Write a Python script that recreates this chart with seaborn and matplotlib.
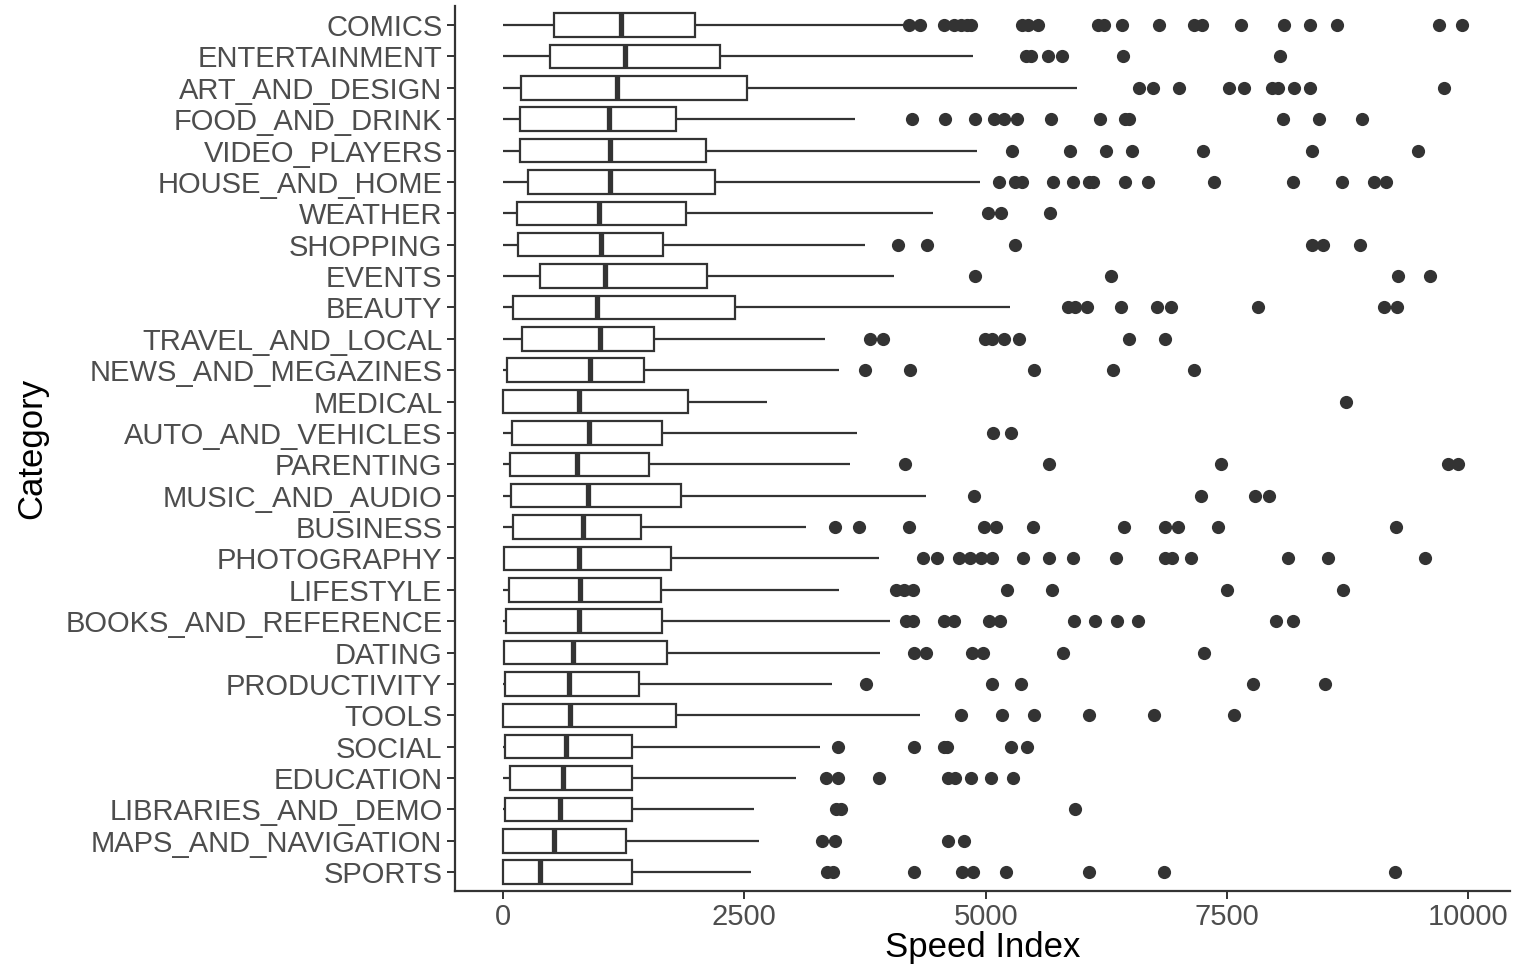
import matplotlib
matplotlib.use("Agg")
import matplotlib.pyplot as plt
import seaborn as sns
import pandas as pd

# categories, top to bottom (ordered by median)
categories = [
    "COMICS", "ENTERTAINMENT", "ART_AND_DESIGN", "FOOD_AND_DRINK", "VIDEO_PLAYERS",
    "HOUSE_AND_HOME", "WEATHER", "SHOPPING", "EVENTS", "BEAUTY",
    "TRAVEL_AND_LOCAL", "NEWS_AND_MEGAZINES", "MEDICAL", "AUTO_AND_VEHICLES",
    "PARENTING", "MUSIC_AND_AUDIO", "BUSINESS", "PHOTOGRAPHY", "LIFESTYLE",
    "BOOKS_AND_REFERENCE", "DATING", "PRODUCTIVITY", "TOOLS", "SOCIAL",
    "EDUCATION", "LIBRARIES_AND_DEMO", "MAPS_AND_NAVIGATION", "SPORTS",
]

# box statistics (Speed Index)
lower = [0] * 28
q1 = [526, 483, 185, 178, 178, 257, 142, 160, 386, 107,
      196, 42, 0, 89, 71, 81, 107, 13, 63, 35,
      6, 17, 0, 17, 74, 17, 0, 3]
median = [1228, 1264, 1181, 1102, 1109, 1109, 995, 1020, 1056, 977,
          1002, 905, 787, 887, 769, 877, 834, 787, 794, 791,
          726, 687, 698, 655, 622, 590, 525, 382]
q3 = [1987, 2249, 2532, 1797, 2102, 2195, 1898, 1657, 2112, 2399,
      1564, 1457, 1915, 1647, 1511, 1844, 1432, 1744, 1640, 1647,
      1700, 1407, 1793, 1335, 1335, 1335, 1271, 1335]
upper = [4160, 4867, 5948, 3646, 4910, 4943, 4452, 3749, 4047, 5250,
         3341, 3484, 2732, 3670, 3592, 4380, 3140, 3893, 3484, 4014,
         3903, 3405, 4315, 3287, 3033, 2596, 2650, 2571]

outliers = [
    [4201, 4316, 4570, 4676, 4740, 4803, 4846, 5375, 5439, 5545, 6160, 6223,
     6414, 6796, 7156, 7241, 7643, 8088, 8364, 8640, 9699, 9932],
    [5418, 5473, 5651, 5787, 6422, 8046],
    [6584, 6732, 7007, 7525, 7673, 7961, 8033, 8194, 8364, 9750],
    [4240, 4583, 4888, 5087, 5193, 5325, 5672, 6181, 6448, 6490, 8080, 8457, 8902],
    [5278, 5871, 6244, 6520, 7249, 8377, 9479],
    [5134, 5303, 5375, 5702, 5905, 6075, 6117, 6448, 6681, 7368, 8186, 8695,
     9021, 9148],
    [5024, 5164, 5664],
    [4091, 4392, 5303, 8385, 8491, 8873],
    [4888, 6300, 9275, 9602],
    [5850, 5922, 6050, 6402, 6770, 6917, 7824, 9123, 9260],
    [3804, 3937, 4991, 5064, 5187, 5348, 6486, 6853],
    [3746, 4221, 5505, 6319, 7162],
    [8731],
    [5079, 5260],
    [4162, 5652, 7442, 9785, 9892],
    [4883, 7226, 7785, 7937],
    [3437, 3692, 4211, 4981, 5103, 5486, 6437, 6853, 6991, 7407, 9255],
    [4353, 4491, 4726, 4834, 4956, 5064, 5383, 5657, 5902, 6353, 6853, 6932,
     7123, 8128, 8549, 9549],
    [4074, 4157, 4246, 5216, 5692, 7505, 8706],
    [4172, 4246, 4564, 4677, 5030, 5153, 5912, 6133, 6363, 6574, 8010, 8182],
    [4260, 4383, 4858, 4971, 5799, 7260],
    [3765, 5064, 5363, 7765, 8520],
    [4746, 5167, 5496, 6069, 6746, 7569],
    [3471, 4260, 4564, 4598, 5265, 5432],
    [3348, 3471, 3893, 4613, 4687, 4849, 5054, 5285],
    [3451, 3500, 5927],
    [3304, 3437, 4613, 4775],
    [3353, 3422, 4260, 4760, 4873, 5206, 6069, 6844, 9236],
]

x_ticks = [0, 2500, 5000, 7500, 10000]

# build a long table whose quartiles / whiskers reproduce the stats above
rows = []
rep = 100
for i, cat in enumerate(categories):
    vals = [lower[i]] + [q1[i]] * rep + [median[i]] * rep + [q3[i]] * rep + [upper[i]] + outliers[i]
    for v in vals:
        rows.append({"Category": cat, "Speed Index": v})
df = pd.DataFrame(rows)

sns.set_theme(style="ticks")
plt.rcParams["font.family"] = ["Liberation Sans", "DejaVu Sans"]

fig = plt.figure(figsize=(15.19, 9.67), dpi=100)
ax = fig.add_axes([0.2995, 0.0786, 0.6945, 0.915])

dark = "#333333"
sns.boxplot(
    data=df, x="Speed Index", y="Category", order=categories, ax=ax,
    color="white", saturation=1, linecolor=dark, linewidth=1.6, width=0.75,
    whis=1.5, showcaps=False,
    medianprops=dict(linewidth=3.8, color=dark),
    flierprops=dict(marker="o", markersize=9.5, markerfacecolor=dark,
                    markeredgecolor=dark, markeredgewidth=0),
)

ax.set_xlim(-497, 10430)
ax.set_ylim(len(categories) - 1 + 0.6, -0.6)
ax.set_xticks(x_ticks)
ax.set_xticklabels([str(t) for t in x_ticks])

for s in ["top", "right"]:
    ax.spines[s].set_visible(False)
for s in ["left", "bottom"]:
    ax.spines[s].set_linewidth(1.6)
    ax.spines[s].set_color(dark)

ax.tick_params(axis="both", colors=dark, labelcolor="#4D4D4D", labelsize=21,
               length=6, width=1.4, pad=3)
ax.set_xlabel("Speed Index", fontsize=25, color="black", labelpad=0)
ax.set_ylabel("Category", fontsize=25, color="black", labelpad=12)

fig.savefig("out.png", dpi=100)
